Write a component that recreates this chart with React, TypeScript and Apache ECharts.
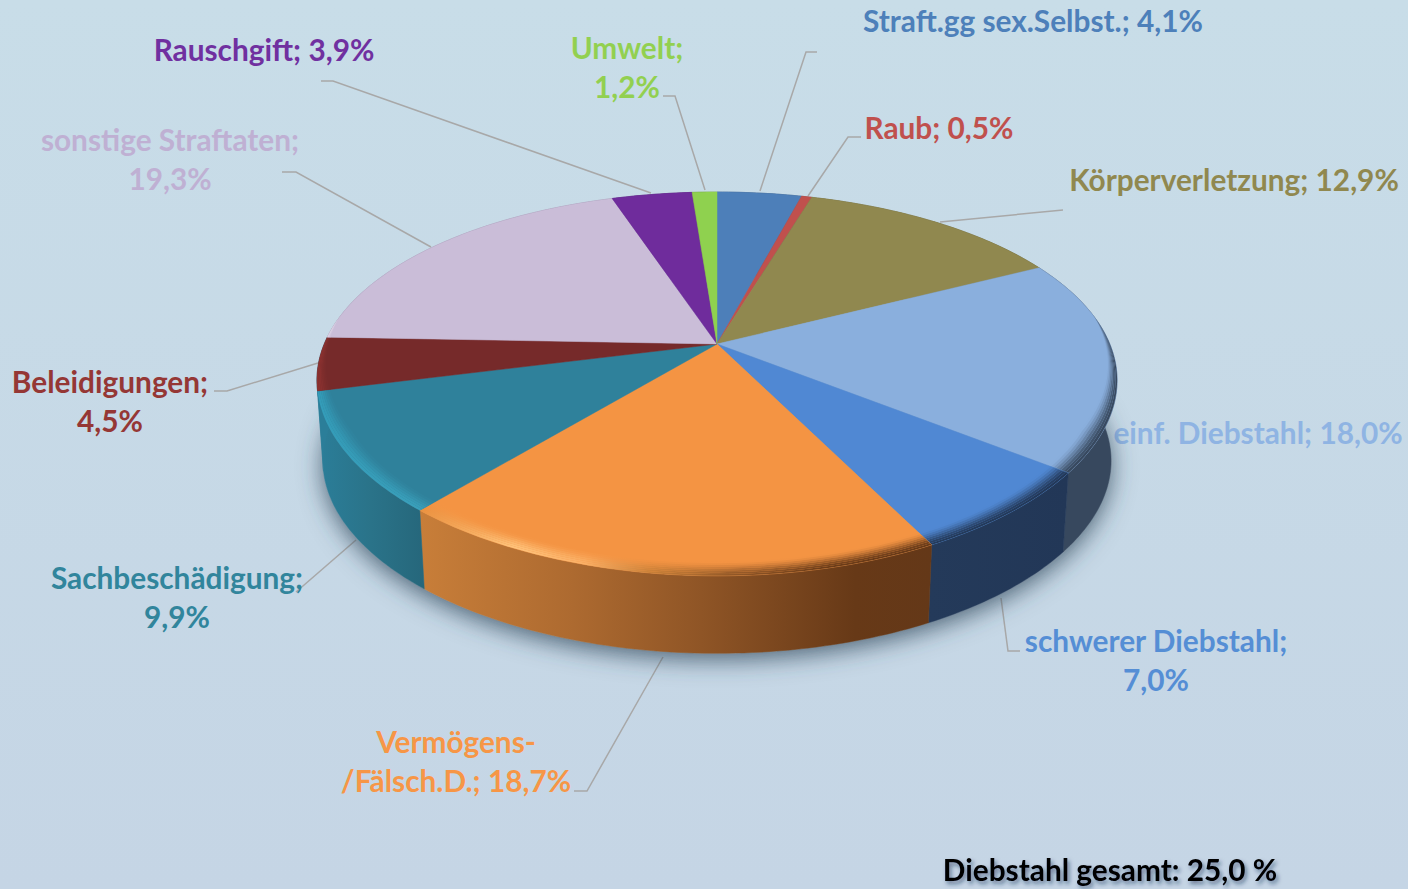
import React, { useEffect, useRef } from "react";
import * as echarts from "echarts";

const categories = [
  "Straft.gg sex.Selbst.", "Raub", "Körperverletzung", "einf. Diebstahl", "schwerer Diebstahl",
  "Vermögens-\n/Fälsch.D.", "Sachbeschädigung", "Beleidigungen", "sonstige Straftaten", "Rauschgift", "Umwelt",
];
const values = [4.1, 0.5, 12.9, 18.0, 7.0, 18.7, 9.9, 4.5, 19.3, 3.9, 1.2];
const breakBeforeValue = [false, false, false, false, true, false, true, true, true, false, true];
const totalNote = "Diebstahl gesamt: 25,0 %";

const faceColors = ["#4d7fb9", "#c0504d", "#90884f", "#8aafdd", "#5088d3", "#f49443", "#2f819b", "#762a2a", "#cabdd8", "#6f2c9c", "#8fd14f"];
const textColors = ["#4d80ba", "#c0504d", "#90884f", "#8fb4e3", "#558ed5", "#f79646", "#31859c", "#953735", "#bfb0d3", "#7030a0", "#92d050"];
const wallStops: [number, string][][] = [
  [[0, "#34557c"], [1, "#34557c"]],
  [[0, "#803533"], [1, "#803533"]],
  [[0, "#605b35"], [1, "#605b35"]],
  [[0, "#37485e"], [1, "#37485e"]],
  [[0, "#243a5a"], [1, "#223757"]],
  [[0, "#c87e39"], [0.3, "#ad6a30"], [0.55, "#8f5526"], [0.85, "#673917"], [1, "#643818"]],
  [[0, "#2b7e99"], [0.5, "#2a7389"], [1, "#26677b"]],
  [[0, "#2b7e99"], [1, "#2b7e99"]],
  [[0, "#8f86a0"], [1, "#8f86a0"]],
  [[0, "#4a1d68"], [1, "#4a1d68"]],
  [[0, "#5f8b35"], [1, "#5f8b35"]],
];
const edgeStops: [number, string][][] = [
  [[0, "#4d7fb9"], [1, "#4d7fb9"]],
  [[0, "#c0504d"], [1, "#c0504d"]],
  [[0, "#90884f"], [1, "#90884f"]],
  [[0, "#37485e"], [1, "#37485e"]],
  [[0, "#243a5a"], [1, "#223757"]],
  [[0, "#ea9240"], [0.18, "#ffc47c"], [0.32, "#fbb066"], [0.45, "#c98038"], [0.62, "#8f5526"], [0.8, "#6a3b18"], [1, "#643818"]],
  [[0, "#339cb9"], [1, "#3aa0bb"]],
  [[0, "#8d3230"], [1, "#8d3230"]],
  [[0, "#e2dbea"], [1, "#e2dbea"]],
  [[0, "#6f2c9c"], [1, "#6f2c9c"]],
  [[0, "#8fd14f"], [1, "#8fd14f"]],
];

type LabelPlace = { x: number; y: number };
const labelPlaces: LabelPlace[] = [
  { x: 1033, y: 20 }, { x: 939, y: 127 }, { x: 1234, y: 179 }, { x: 1258, y: 432 }, { x: 1156, y: 660 },
  { x: 456, y: 761 }, { x: 177, y: 597 }, { x: 110, y: 401 }, { x: 170, y: 159 }, { x: 264, y: 49 }, { x: 627, y: 67 },
];
const leaderLines: ([number, number][] | null)[] = [
  [[817, 52], [806, 52], [760, 191]],
  [[861, 137], [848, 137], [808, 196]],
  [[1063, 210], [940, 222]],
  null,
  [[1020, 651], [1008, 651], [1001, 598]],
  [[574, 791], [587, 791], [663, 657]],
  [[296, 592], [356, 540]],
  [[214, 391], [227, 391], [318, 363]],
  [[282, 172], [296, 172], [431, 247]],
  [[321, 81], [333, 81], [651, 193]],
  [[663, 96], [675, 96], [705, 190]],
];

const apexX = 717, apexY = 344, spanX = 392.8, spanY = 183.6, tiltY = 0.208, tiltX = 0.19;
const baseScale = 0.985, baseDrop = 81;

function project(theta: number, rho: number, level: 0 | 1): [number, number] {
  const u = Math.sin(theta) * rho;
  const v = -Math.cos(theta) * rho;
  let x = (spanX * u) / (1 - tiltX * v);
  let y = (spanY * v) / (1 - tiltY * v);
  if (level === 1) {
    x *= baseScale;
    y = y * baseScale + baseDrop;
  }
  return [apexX + x, apexY + y];
}
const total = values.reduce((a, b) => a + b, 0);
const startShare = values.map((_, i) => values.slice(0, i).reduce((a, b) => a + b, 0) / total);

function angles(a: number, b: number) {
  const n = Math.max(2, Math.ceil(((b - a) * 180) / Math.PI));
  const out: number[] = [];
  for (let i = 0; i <= n; i++) out.push(a + ((b - a) * i) / n);
  return out;
}
function sliceAngles(i: number, value: number) {
  const a = startShare[i] * 2 * Math.PI;
  return [a, a + (value / total) * 2 * Math.PI];
}
function hex(c: string) {
  return [1, 3, 5].map((k) => parseInt(c.slice(k, k + 2), 16));
}
function mix(a: string, b: string, t: number) {
  const x = hex(a), y = hex(b);
  return `rgb(${x.map((q, i) => Math.round(q + (y[i] - q) * t)).join(",")})`;
}
function hGrad(stops: { offset: number; color: string }[]) {
  return { type: "linear", x: 0, y: 0, x2: 1, y2: 0, colorStops: stops };
}
function bevelWidth(theta: number) {
  const v = -Math.cos(theta);
  return 0.05 * Math.max(0, Math.min(1, (v + 0.15) / 0.6));
}

function renderShadow(params: any) {
  if (params.dataIndex !== 0) return null;
  const pts = angles(0, 2 * Math.PI).map((t) => project(t, 1, 1));
  return {
    type: "polygon",
    shape: { points: pts },
    style: { fill: "#8ea3b3", shadowBlur: 24, shadowColor: "rgba(50,70,90,0.8)", shadowOffsetX: 0, shadowOffsetY: 6 },
  };
}
function renderWall(params: any, api: any) {
  const i = params.dataIndex;
  const [a, b] = sliceAngles(i, api.value(0));
  const ts = angles(a, b);
  const pts = [...ts.map((t) => project(t, 1, 0)), ...ts.slice().reverse().map((t) => project(t, 1, 1))];
  const fill = hGrad(wallStops[i].map(([offset, color]) => ({ offset, color })));
  return { type: "polygon", shape: { points: pts }, style: { fill, stroke: fill, lineWidth: 0.5 } };
}
function renderTop(params: any, api: any) {
  const i = params.dataIndex;
  const [a, b] = sliceAngles(i, api.value(0));
  const ts = angles(a, b);
  const face = faceColors[i];
  const children: any[] = [
    {
      type: "polygon",
      shape: { points: [[apexX, apexY], ...ts.map((t) => project(t, 1, 0))] },
      style: { fill: face, stroke: face, lineWidth: 0.5 },
    },
  ];
  const strips = 8;
  for (let k = 0; k < strips; k++) {
    const p0 = k / strips, p1 = (k + 1) / strips;
    const tint = (k + 0.5) / strips;
    const eased = tint * tint * (3 - 2 * tint);
    const outer = ts.map((t) => project(t, 1 - bevelWidth(t) * (1 - p1), 0));
    const inner = ts.slice().reverse().map((t) => project(t, 1 - bevelWidth(t) * (1 - p0), 0));
    children.push({
      type: "polygon",
      shape: { points: [...outer, ...inner] },
      style: {
        fill: hGrad(edgeStops[i].map(([offset, color]) => ({ offset, color: mix(face, color, eased) }))),
      },
    });
  }
  return { type: "group", children };
}

function labelText(i: number) {
  const val = values[i].toFixed(1).replace(".", ",") + "%";
  return `${categories[i]};${breakBeforeValue[i] ? "\n" : " "}${val}`;
}

const labelFont = "Lato";
const labelSize = 29.8;

export default function App() {
  const ref = useRef<HTMLDivElement>(null);
  useEffect(() => {
    const chart = echarts.init(ref.current!, undefined, { renderer: "svg" });
    const seriesData = values.map((v, i) => ({ name: categories[i], value: [v] }));
    const graphics: any[] = [];
    leaderLines.forEach((pts) => {
      if (pts)
        graphics.push({
          type: "polyline",
          silent: true,
          shape: { points: pts },
          style: { stroke: "#a8a8a8", lineWidth: 1.5, fill: "none" },
        });
    });
    categories.forEach((_, i) => {
      graphics.push({
        type: "text",
        silent: true,
        x: labelPlaces[i].x,
        y: labelPlaces[i].y,
        style: {
          text: labelText(i),
          fill: textColors[i],
          font: `bold ${labelSize}px ${labelFont}`,
          lineHeight: 39,
          align: "center",
          verticalAlign: "middle",
        },
      });
    });
    graphics.push({
      type: "text",
      silent: true,
      x: 1110,
      y: 869,
      style: {
        text: totalNote,
        fill: "#000000",
        font: `bold ${labelSize}px ${labelFont}`,
        align: "center",
        verticalAlign: "middle",
        textShadowBlur: 4,
        textShadowColor: "rgba(20,40,80,0.55)",
        textShadowOffsetX: 2,
        textShadowOffsetY: 3,
      },
    });
    chart.setOption({
      animation: false,
      backgroundColor: {
        type: "linear",
        x: 0,
        y: 0,
        x2: 0,
        y2: 1,
        colorStops: [
          { offset: 0, color: "#c8dde8" },
          { offset: 1, color: "#c5d5e5" },
        ],
      },
      series: [
        { type: "custom", name: "Schatten", coordinateSystem: "none", silent: true, clip: false, renderItem: renderShadow, data: seriesData },
        { type: "custom", name: "Seiten", coordinateSystem: "none", silent: true, clip: false, renderItem: renderWall, data: seriesData },
        { type: "custom", name: "Anteile", coordinateSystem: "none", silent: true, clip: false, renderItem: renderTop, data: seriesData },
      ],
      graphic: graphics,
    });
    return () => chart.dispose();
  }, []);
  return <div ref={ref} style={{ position: "fixed", left: 0, top: 0, width: 1408, height: 889 }} />;
}
